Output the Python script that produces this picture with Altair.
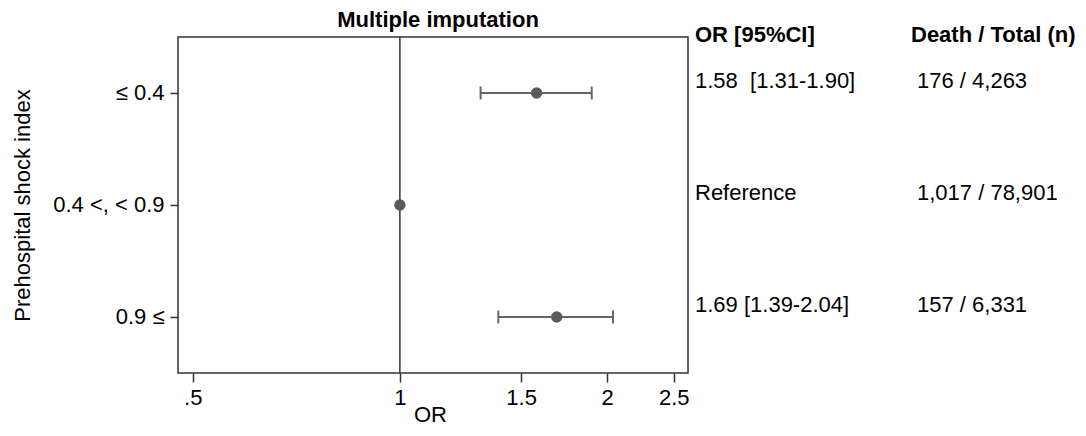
import altair as alt
import pandas as pd

# ---- data ----
GROUPS = ["≤ 0.4", "0.4 <, < 0.9", "0.9 ≤"]
OR_VALUES = [1.58, 1.00, 1.69]
CI_LOW = [1.31, None, 1.39]
CI_HIGH = [1.90, None, 2.04]
OR_TEXT = ["1.58\u00a0\u00a0[1.31-1.90]", "Reference", "1.69 [1.39-2.04]"]
COUNT_TEXT = ["176 / 4,263", "1,017 / 78,901", "157 / 6,331"]
HEADERS = ["OR [95%CI]", "Death / Total (n)"]
X_TICKS = [0.5, 1, 1.5, 2, 2.5]
X_TICK_LABELS = [".5", "1", "1.5", "2", "2.5"]
X_DOMAIN = [0.476, 2.622]
REF_VALUE = 1.0

df = pd.DataFrame({
    "group": GROUPS,
    "or": OR_VALUES,
    "lo": CI_LOW,
    "hi": CI_HIGH,
    "or_text": OR_TEXT,
    "count_text": COUNT_TEXT,
})
ci = df.dropna(subset=["lo"])
ci_ends = pd.concat([
    ci[["group", "lo"]].rename(columns={"lo": "v"}),
    ci[["group", "hi"]].rename(columns={"hi": "v"}),
])

FONT = "Liberation Sans"
FS = 22
W, H = 510, 336

label_expr = " : ".join(
    f"datum.value == {v} ? '{l}'" for v, l in zip(X_TICKS, X_TICK_LABELS)
) + " : datum.label"

xscale = alt.Scale(type="log", domain=X_DOMAIN, nice=False, zero=False)
yscale = alt.Scale(type="band", domain=GROUPS, paddingInner=0, paddingOuter=0)

x_axis = alt.Axis(
    values=X_TICKS, labelExpr=label_expr, title="OR", grid=False, domain=False,
    tickSize=9, tickWidth=1.5, tickColor="#333", labelPadding=5,
    labelFontSize=FS, titleFontSize=FS, titleFontWeight="normal",
    titleX=252, titleY=41, titleBaseline="middle", labelColor="#000", titleColor="#000",
)
y_axis = alt.Axis(
    title="Prehospital shock index", grid=False, domain=False,
    tickSize=8, tickWidth=1.5, tickColor="#333", labelPadding=6,
    labelFontSize=FS, titleFontSize=FS, titleFontWeight="normal",
    titleX=-156, titleY=H / 2, titleAngle=270, titleAlign="center", titleBaseline="middle",
    labelColor="#000", titleColor="#000",
)

base = alt.Chart(df)

ref_rule = alt.Chart(pd.DataFrame({"ref": [REF_VALUE]})).mark_rule(
    color="#333", strokeWidth=1.5
).encode(x=alt.X("ref:Q", scale=xscale, axis=x_axis))

bars = alt.Chart(ci).mark_rule(color="#666", strokeWidth=2).encode(
    x=alt.X("lo:Q", scale=xscale, axis=x_axis),
    x2="hi:Q",
    y=alt.Y("group:N", scale=yscale, sort=GROUPS, axis=y_axis),
)
caps = alt.Chart(ci_ends).mark_tick(
    color="#666", thickness=2, size=13, orient="vertical", opacity=1
).encode(
    x=alt.X("v:Q", scale=xscale, axis=x_axis),
    y=alt.Y("group:N", scale=yscale, sort=GROUPS, axis=y_axis),
)
points = base.mark_circle(size=130, color="#5a5a5a", opacity=1).encode(
    x=alt.X("or:Q", scale=xscale, axis=x_axis),
    y=alt.Y("group:N", scale=yscale, sort=GROUPS, axis=y_axis),
)

or_txt = base.mark_text(
    align="left", baseline="middle", font=FONT, fontSize=FS, dy=-12, color="#000"
).encode(
    x=alt.value(517),
    y=alt.Y("group:N", scale=yscale, sort=GROUPS, axis=y_axis),
    text="or_text:N",
)
cnt_txt = base.mark_text(
    align="left", baseline="middle", font=FONT, fontSize=FS, dy=-12, color="#000"
).encode(
    x=alt.value(739),
    y=alt.Y("group:N", scale=yscale, sort=GROUPS, axis=y_axis),
    text="count_text:N",
)

hdr_df = pd.DataFrame({"h": HEADERS})
hdr1 = alt.Chart(hdr_df).transform_filter(alt.datum.h == HEADERS[0]).mark_text(
    align="left", baseline="middle", font=FONT, fontSize=FS, fontWeight="bold", color="#000"
).encode(x=alt.value(517), y=alt.value(-2), text="h:N")
hdr2 = alt.Chart(hdr_df).transform_filter(alt.datum.h == HEADERS[1]).mark_text(
    align="left", baseline="middle", font=FONT, fontSize=FS, fontWeight="bold", color="#000"
).encode(x=alt.value(733), y=alt.value(-2), text="h:N")

chart = alt.layer(
    ref_rule, bars, caps, points, or_txt, cnt_txt, hdr1, hdr2
).properties(
    width=W, height=H,
    title=alt.TitleParams(
        "Multiple imputation", font=FONT, fontSize=FS, fontWeight="bold",
        anchor="middle", frame="group", offset=8, dx=5, dy=16, color="#000",
    ),
    autosize=alt.AutoSizeParams(type="none"),
    padding={"left": 170, "top": 29, "right": 390, "bottom": 55},
).configure(
    font=FONT,
).configure_view(
    stroke="#333", strokeWidth=1.5,
).configure_axis(
    labelFont=FONT, titleFont=FONT,
)

chart.save("out.html", embed_options={"renderer": "svg", "actions": False})
